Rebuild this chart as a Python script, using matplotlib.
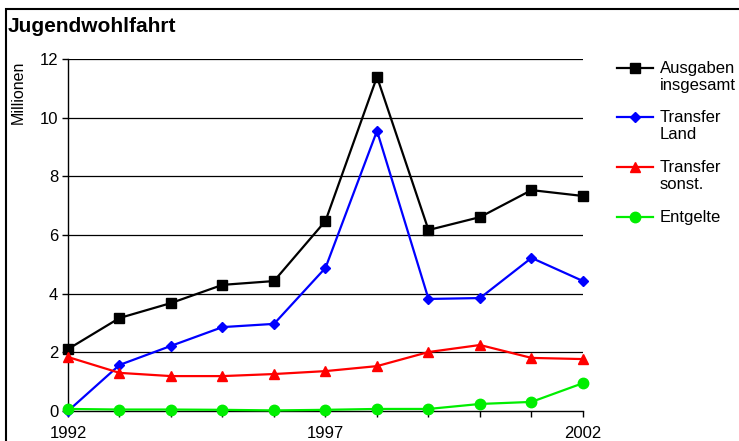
import matplotlib
matplotlib.use("Agg")
import matplotlib.pyplot as plt
from matplotlib.lines import Line2D
from matplotlib.patches import Rectangle

plt.rcParams['font.family'] = ['Liberation Sans', 'DejaVu Sans']

years = [1992, 1993, 1994, 1995, 1996, 1997, 1998, 1999, 2000, 2001, 2002]
ausgaben = [2.11, 3.17, 3.68, 4.30, 4.43, 6.48, 11.39, 6.17, 6.61, 7.53, 7.33]
transfer_land = [0.0, 1.57, 2.22, 2.86, 2.97, 4.88, 9.55, 3.82, 3.85, 5.22, 4.43]
transfer_sonst = [1.84, 1.30, 1.19, 1.19, 1.26, 1.36, 1.53, 2.01, 2.25, 1.81, 1.77]
entgelte = [0.07, 0.05, 0.05, 0.04, 0.02, 0.04, 0.07, 0.07, 0.24, 0.31, 0.95]

series = [
    ("Ausgaben\ninsgesamt", ausgaben, "#000000", "s", 7.5),
    ("Transfer\nLand", transfer_land, "#0000ff", "D", 5.5),
    ("Transfer\nsonst.", transfer_sonst, "#ff0000", "^", 7.5),
    ("Entgelte", entgelte, "#00ee00", "o", 7.5),
]
xtick_labels = {1992: "1992", 1997: "1997", 2002: "2002"}

W, H = 739, 441
fig = plt.figure(figsize=(W / 100, H / 100), dpi=100)
ax = fig.add_axes([68 / W, 1 - 411 / H, (583 - 68) / W, (411 - 59) / H])

for label, vals, color, marker, ms in series:
    ax.plot(years, vals, color=color, marker=marker, markersize=ms, lw=1.6,
            clip_on=False, zorder=3)

ax.set_xlim(1992, 2002)
ax.set_ylim(0, 12)
ax.set_yticks([0, 2, 4, 6, 8, 10, 12])
ax.set_xticks(years)
ax.set_xticklabels([xtick_labels.get(y, "") for y in years])
ax.tick_params(axis='both', direction='out', length=4, width=1, labelsize=12,
               colors='black', pad=3)
ax.tick_params(axis='x', pad=7)
for y in [2, 4, 6, 8, 10, 12]:
    ax.axhline(y, color='black', lw=0.9, zorder=1)
ax.spines['top'].set_visible(False)
ax.spines['right'].set_visible(False)
ax.spines['left'].set_linewidth(1)
ax.spines['bottom'].set_linewidth(1)

fig.text(8 / W, 1 - 27 / H, "Jugendwohlfahrt", fontsize=15, fontweight='bold',
         ha='left', va='center')
fig.text(18 / W, 1 - 92 / H, "Millionen", rotation=90, fontsize=11.5,
         ha='center', va='center')

# legend
leg_y = [68, 117, 167, 217]
for (label, vals, color, marker, ms), yy in zip(series, leg_y):
    yf = 1 - yy / H
    fig.add_artist(Line2D([617 / W, 653 / W], [yf, yf], color=color, lw=1.6,
                          transform=fig.transFigure))
    fig.add_artist(Line2D([635 / W], [yf], color=color, marker=marker,
                          markersize=ms, transform=fig.transFigure))
    fig.text(660 / W, 1 - (yy - 7) / H, label, fontsize=12, ha='left', va='top',
             linespacing=1.2, transform=fig.transFigure)

# outer border
fig.add_artist(Rectangle((6 / W, -0.1), 1.2, 1 - 9 / H + 0.1, fill=False,
                         edgecolor='black', lw=1.5, transform=fig.transFigure))

fig.savefig("out.png", dpi=100)
